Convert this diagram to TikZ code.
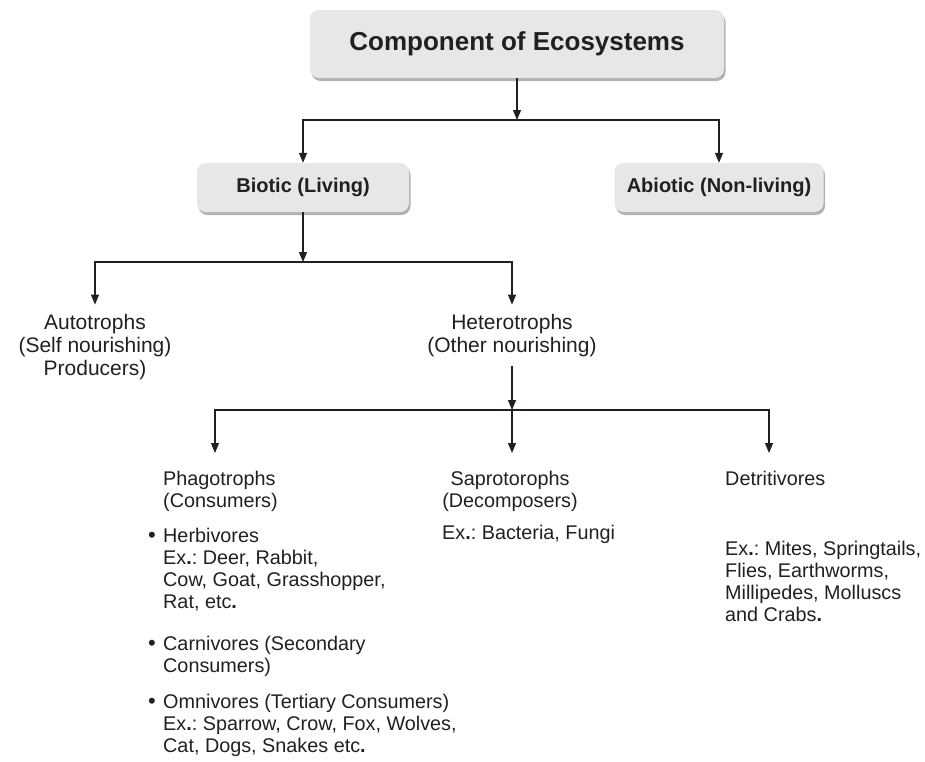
\documentclass[tikz,border=0pt]{standalone}
\usepackage{fontspec}
\setmainfont{Liberation Sans}
\usetikzlibrary{arrows.meta,shadows}
\definecolor{boxgray}{HTML}{E6E7E8}
\definecolor{ink}{HTML}{231F20}
\begin{document}
\frenchspacing
\begin{tikzpicture}[x=1pt,y=-1pt,
  ln/.style={line width=1.1pt, draw=ink},
  arr/.style={ln, -{Triangle[length=10pt,width=8pt]}},
  box/.style={fill=boxgray, rounded corners=9pt, inner sep=0pt, text=ink,
    drop shadow={shadow xshift=1.5pt,shadow yshift=-3pt,fill=black!30,opacity=1}},
  uptext/.style={font=\fontsize{21}{23}\selectfont, align=center, inner xsep=0pt, inner ysep=9pt, anchor=base, text=ink},
  lowtext/.style={font=\fontsize{19.8}{22}\selectfont, align=left, inner sep=0pt, anchor=base west, text=ink},
  bul/.style={font=\fontsize{22}{22}\selectfont, inner sep=0pt, anchor=base, text=ink}]
\useasboundingbox (0,0) rectangle (925,761);
% boxes
\node[box, minimum width=414pt, minimum height=68pt, font=\bfseries\fontsize{26}{30}\selectfont] (top) at (517,44) {Component of Ecosystems};
\node[box, minimum width=212pt, minimum height=49pt, font=\bfseries\fontsize{20}{24}\selectfont] (biotic) at (303,187.5) {Biotic (Living)};
\node[box, minimum width=209pt, minimum height=49pt, font=\bfseries\fontsize{20}{24}\selectfont] (abiotic) at (719,187.5) {Abiotic (Non-living)};
% second level (anchor = baseline of the last line)
\node[uptext] (auto) at (95,375) {Autotrophs\\(Self nourishing)\\Producers)};
\node[uptext] (hetero) at (512,352) {Heterotrophs\\(Other nourishing)};
% third level
\node[lowtext] (phago) at (163,507) {Phagotrophs\\(Consumers)};
\node[bul] (b1) at (152,542) {•};
\node[lowtext] (herb) at (163,608) {Herbivores\\Ex\textbf{.}: Deer, Rabbit,\\Cow, Goat, Grasshopper,\\Rat, etc\textbf{.}};
\node[bul] (b2) at (152,650) {•};
\node[lowtext] (carn) at (163,672) {Carnivores (Secondary\\Consumers)};
\node[bul] (b3) at (152,708) {•};
\node[lowtext] (omni) at (163,752) {Omnivores (Tertiary Consumers)\\Ex\textbf{.}: Sparrow, Crow, Fox, Wolves,\\Cat, Dogs, Snakes etc\textbf{.}};
\node[lowtext, align=center, anchor=base] (sapro) at (510,507) {Saprotorophs\\(Decomposers)};
\node[lowtext] (saproex) at (442,539) {Ex\textbf{.}: Bacteria, Fungi};
\node[lowtext] (detri) at (725,485) {Detritivores};
\node[lowtext] (detriex) at (725,621) {Ex\textbf{.}: Mites, Springtails,\\Flies, Earthworms,\\Millipedes, Molluscs\\and Crabs\textbf{.}};
% connectors
\coordinate (j1) at (517,120);
\draw[arr] (top.south) -- (j1);
\draw[arr] (j1) -| (biotic.north);
\draw[arr] (j1) -| (abiotic.north);
\coordinate (j2) at (303,262);
\draw[arr] (biotic.south) -- (j2);
\draw[arr] (j2) -| (auto.north);
\draw[arr] (j2) -| (hetero.north);
\coordinate (j3) at (512,410);
\draw[arr] (hetero.south) -- (j3);
\coordinate (t1) at (215,453);
\coordinate (t2) at (512,453);
\coordinate (t3) at (769,453);
\draw[arr] (j3) -| (t1);
\draw[arr] (j3) -- (t2);
\draw[arr] (j3) -| (t3);
\end{tikzpicture}
\end{document}
